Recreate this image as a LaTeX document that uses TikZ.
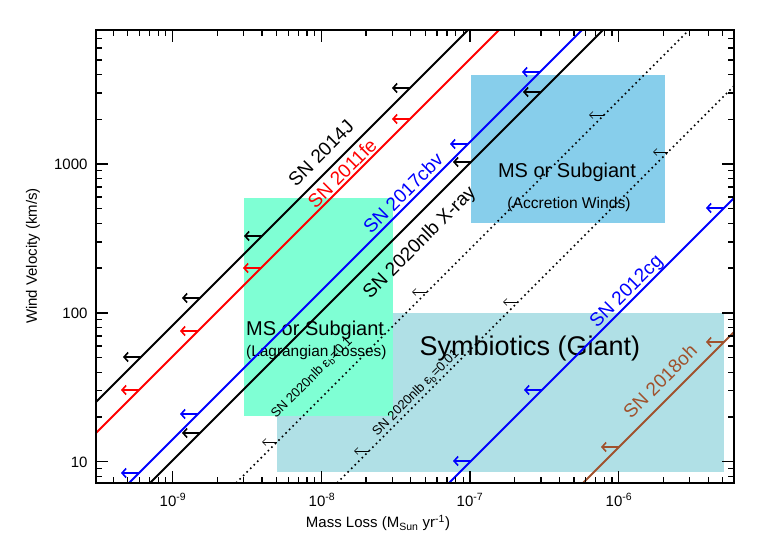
\documentclass[tikz,border=0pt]{standalone}
\usepackage{fontspec}
\setmainfont{Liberation Sans}
\usetikzlibrary{arrows.meta}
\definecolor{aqm}{HTML}{7FFFD4}
\definecolor{skyb}{HTML}{87CEEB}
\definecolor{powd}{HTML}{B0E0E6}
\definecolor{sien}{HTML}{A0522D}
\begin{document}
\begin{tikzpicture}[x=1pt,y=-1pt,
  dataline/.style={line width=2pt},
  dotline/.style={line width=1.6pt, dash pattern=on 1.6pt off 3.4pt},
  sarr/.style={line width=1.8pt,-{Straight Barb[length=4pt,width=9pt,line width=1.6pt]}},
  tarr/.style={line width=0.6pt,-{Straight Barb[length=3.5pt,width=7pt,line width=0.6pt]}},
  lab/.style={rotate=45,font=\fontsize{19}{19}\selectfont,inner sep=0pt},
  slab/.style={rotate=45,font=\fontsize{13}{13}\selectfont,inner sep=0pt},
  tick/.style={line width=1.3pt},
  ticklab/.style={font=\fontsize{15}{15}\selectfont}]
\useasboundingbox (0,0) rectangle (763,545);
% boxes
\fill[powd] (277,313) rectangle (724,472);
\fill[aqm] (244,198) rectangle (393,416);
\fill[skyb] (471,75) rectangle (665,223);
\node[font=\fontsize{20}{20}\selectfont,anchor=west,inner sep=0pt] (ms1) at (246,330) {MS or Subgiant};
\node[font=\fontsize{15.4}{15}\selectfont,anchor=west,inner sep=0pt] (lag) at (246,353) {(Lagrangian Losses)};
\node[font=\fontsize{20}{20}\selectfont] (ms2) at (567,172) {MS or Subgiant};
\node[font=\fontsize{15.6}{15}\selectfont] (acc) at (569,204) {(Accretion Winds)};
\node[font=\fontsize{27}{27}\selectfont] (sym) at (530,349) {Symbiotics (Giant)};
% lines
\begin{scope}
\clip (96,30) rectangle (734,483);
\draw[dataline,black] ({498-483},483) coordinate (a1) -- ({498-30},30) coordinate (a2);
\draw[dataline,red] ({529-483},483) coordinate (b1) -- ({529-30},30) coordinate (b2);
\draw[dataline,blue] ({612-483},483) coordinate (c1) -- ({612-30},30) coordinate (c2);
\draw[dataline,black] ({633-483},483) coordinate (d1) -- ({633-30},30) coordinate (d2);
\draw[dotline] ({719-483},483) coordinate (e1) -- ({719-30},30) coordinate (e2);
\draw[dotline] ({820-483},483) coordinate (f1) -- ({820-30},30) coordinate (f2);
\draw[dataline,blue] ({932-483},483) coordinate (g1) -- ({932-30},30) coordinate (g2);
\draw[dataline,sien] ({1066-483},483) coordinate (h1) -- ({1066-30},30) coordinate (h2);
\end{scope}
\foreach \y in {357,298,236,88} \draw[sarr,black] ({498-\y},\y) -- ++(-18,0);
\foreach \y in {390,331,268,119} \draw[sarr,red] ({529-\y},\y) -- ++(-18,0);
\foreach \y in {473,414,144,72} \draw[sarr,blue] ({612-\y},\y) -- ++(-18,0);
\foreach \y in {433,162,92} \draw[sarr,black] ({633-\y},\y) -- ++(-18,0);
\foreach \y in {442,292,115} \draw[tarr] ({719-\y},\y) -- ++(-15,0);
\foreach \y in {451,302,152} \draw[tarr] ({820-\y},\y) -- ++(-15,0);
\foreach \y in {461,390,208} \draw[sarr,blue] ({932-\y},\y) -- ++(-18,0);
\foreach \y in {447,342} \draw[sarr,sien] ({1066-\y},\y) -- ++(-18,0);
% labels
\node[lab,black] (l1) at (321,153) {SN 2014J};
\node[lab,red] (l2) at (342,173) {SN 2011fe};
\node[lab,blue] (l3) at (403,193) {SN 2017cbv};
\node[lab,black] (l4) at (420,243) {SN 2020nlb X-ray};
\node[slab,black] (l5) at (312,378) {SN 2020nlb ε\textsubscript{b}=0.1};
\node[slab,black] (l6) at (416,393) {SN 2020nlb ε\textsubscript{b}=0.01};
\node[lab,blue] (l7) at (627,292) {SN 2012cg};
\node[lab,sien] (l8) at (660,381) {SN 2018oh};
% ticks
\begin{scope}
\clip (96,30) rectangle (734,483);
\foreach \d in {-10,...,-6} {
  \draw[tick] ({470+148.7*(\d+7)},483) -- ++(0,-12) ({470+148.7*(\d+7)},30) -- ++(0,12);
  \foreach \k in {2,...,9} {
    \draw[tick] ({470+148.7*(\d+7+log10(\k))},483) -- ++(0,-6)
                ({470+148.7*(\d+7+log10(\k))},30) -- ++(0,6);
  }
}
\foreach \d in {0,...,3} {
  \draw[tick] (96,{164+148.9*(3-\d)}) -- ++(12,0) (734,{164+148.9*(3-\d)}) -- ++(-12,0);
  \foreach \k in {2,...,9} {
    \draw[tick] (96,{164+148.9*(3-\d-log10(\k))}) -- ++(6,0)
                (734,{164+148.9*(3-\d-log10(\k))}) -- ++(-6,0);
  }
}
\end{scope}
\draw[line width=2.5pt] (96,30) rectangle (734,483);
% tick labels
\foreach \d/\x in {-9/173,-8/322,-7/470,-6/619}
  \node[ticklab] at (\x,500) {10\textsuperscript{\d}};
\node[ticklab,anchor=east] (y1) at (91,164) {1000};
\node[ticklab,anchor=east] (y2) at (91,313) {100};
\node[ticklab,anchor=east] (y3) at (91,462) {10};
\node[ticklab] (xl) at (378,523) {Mass Loss (M\textsubscript{Sun} yr\textsuperscript{-1})};
\node[ticklab,rotate=90] (yl) at (33,256) {Wind Velocity (km/s)};
\end{tikzpicture}
\end{document}
